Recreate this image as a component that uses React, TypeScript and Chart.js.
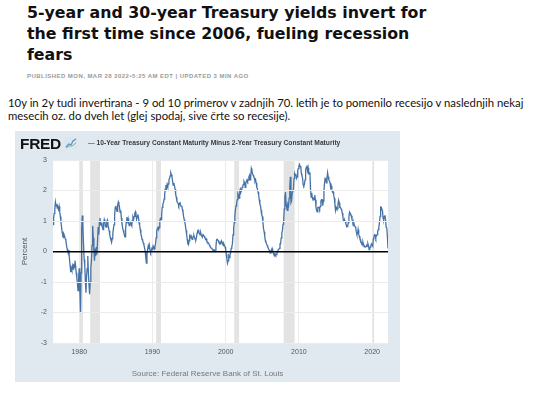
import React, { useEffect, useRef } from 'react';
import { Chart, registerables } from 'chart.js';

Chart.register(...registerables);

// ---- DATA ----
const seriesStart = '1976-06';
const spread1970s = [
  0.88, 1.10, 1.25, 1.40, 1.62, 1.50, 1.55,
  1.42, 1.45, 1.38, 1.48, 1.30, 1.15, 0.98, 0.80, 0.62, 0.55, 0.60, 0.48,
  0.50, 0.42, 0.38, 0.22, 0.10, 0.02, -0.05, 0.05, -0.25, -0.45, -0.68, -0.55,
  -0.62, -0.48, -0.58, -0.40, -0.52, -0.30, -0.45, -0.70, -0.85, -1.05, -1.28, -0.85,
];
const spread1980s = [
  -0.55, -1.25, -2.02, -0.70, 0.75, 1.18, 0.85, 0.25, -0.25, -0.45, -0.95, -1.35,
  -0.80, -0.55, -0.15, -0.70, -1.10, -1.40, -1.00, -0.55, -0.30, 0.20, 0.84, 0.45,
  0.05, -0.30, 0.10, -0.15, 0.15, -0.10, 0.35, 0.80, 0.55, 0.95, 1.10, 0.90,
  0.85, 0.95, 0.78, 0.72, 0.92, 1.05, 0.98, 0.82, 0.80, 0.95, 1.02, 0.88,
  0.78, 0.68, 0.55, 0.45, 0.38, 0.30, 0.42, 0.58, 0.75, 0.88, 1.20, 1.45,
  1.50, 1.38, 1.32, 1.52, 1.62, 1.55, 1.45, 1.28, 1.35, 1.10, 0.92, 0.78,
  0.70, 0.62, 0.55, 0.48, 0.75, 0.95, 1.12, 1.00, 1.08, 0.92, 0.85, 0.90,
  0.95, 0.90, 0.85, 1.02, 1.12, 1.05, 1.15, 1.25, 1.30, 1.18, 1.05, 1.15,
  1.22, 1.12, 0.95, 0.85, 0.72, 0.58, 0.50, 0.40, 0.35, 0.28, 0.22, 0.12,
  0.02, -0.18, -0.38, -0.12, 0.05, 0.18, 0.08, 0.20, 0.05, -0.02, 0.05, 0.10,
];
const spread1990s = [
  0.08, 0.18, 0.12, 0.08, 0.15, 0.25, 0.45, 0.68, 0.75, 0.82, 0.72, 0.78,
  1.00, 1.08, 1.05, 1.20, 1.45, 1.55, 1.60, 1.72, 1.88, 2.05, 2.18, 2.08,
  2.20, 2.12, 2.22, 2.35, 2.40, 2.48, 2.58, 2.52, 2.45, 2.30, 2.18, 2.25,
  2.15, 2.05, 1.88, 1.78, 1.65, 1.60, 1.58, 1.50, 1.55, 1.62, 1.52, 1.48,
  1.50, 1.38, 1.30, 1.15, 1.05, 0.98, 0.85, 0.70, 0.55, 0.40, 0.25, 0.22,
  0.35, 0.50, 0.45, 0.55, 0.45, 0.40, 0.45, 0.50, 0.52, 0.45, 0.40, 0.38,
  0.45, 0.60, 0.68, 0.70, 0.65, 0.58, 0.55, 0.62, 0.55, 0.50, 0.48, 0.55,
  0.55, 0.50, 0.45, 0.40, 0.42, 0.35, 0.30, 0.30, 0.28, 0.22, 0.18, 0.15,
  0.12, 0.10, 0.08, 0.05, 0.05, 0.02, 0.03, 0.00, 0.15, 0.38, 0.40, 0.40,
  0.35, 0.30, 0.30, 0.25, 0.30, 0.35, 0.30, 0.25, 0.20, 0.25, 0.20, 0.15,
];
const spread2000s = [
  0.05, -0.10, -0.25, -0.38, -0.30, -0.15, -0.20, -0.10, -0.05, 0.10, 0.15, 0.25,
  0.55, 0.75, 0.95, 1.15, 1.38, 1.50, 1.60, 1.70, 1.90, 1.85, 1.75, 2.00,
  2.05, 1.95, 2.00, 2.10, 2.15, 2.20, 2.30, 2.25, 2.10, 2.25, 2.30, 2.35,
  2.30, 2.35, 2.45, 2.50, 2.35, 2.45, 2.72, 2.65, 2.55, 2.50, 2.45, 2.40,
  2.30, 2.35, 2.25, 2.10, 2.05, 1.95, 1.85, 1.70, 1.55, 1.50, 1.35, 1.20,
  1.15, 0.95, 0.75, 0.65, 0.50, 0.35, 0.30, 0.25, 0.20, 0.15, 0.10, 0.05,
  0.02, -0.05, -0.02, 0.05, 0.10, 0.00, -0.05, -0.10, -0.12, -0.08, -0.12, -0.10,
  -0.05, -0.02, 0.05, 0.05, 0.10, 0.25, 0.25, 0.45, 0.60, 0.70, 0.90, 1.00,
  1.40, 1.80, 1.95, 1.55, 1.45, 1.35, 1.55, 1.50, 1.75, 2.10, 2.45, 1.60,
  1.65, 1.90, 1.90, 2.05, 2.40, 2.55, 2.50, 2.55, 2.40, 2.45, 2.65, 2.72,
];
const spread2010s = [
  2.80, 2.85, 2.78, 2.80, 2.55, 2.48, 2.40, 2.18, 2.15, 2.20, 2.35, 2.68,
  2.75, 2.82, 2.65, 2.75, 2.55, 2.55, 2.60, 2.05, 1.78, 1.92, 1.75, 1.72,
  1.75, 1.70, 1.85, 1.70, 1.45, 1.35, 1.30, 1.45, 1.45, 1.45, 1.40, 1.48,
  1.65, 1.70, 1.70, 1.50, 1.65, 2.00, 2.25, 2.40, 2.38, 2.25, 2.40, 2.58,
  2.45, 2.35, 2.32, 2.25, 2.10, 2.15, 2.03, 1.95, 1.96, 1.85, 1.75, 1.55,
  1.35, 1.45, 1.40, 1.40, 1.55, 1.68, 1.60, 1.45, 1.45, 1.40, 1.38, 1.26,
  1.15, 1.00, 1.01, 1.03, 0.98, 0.91, 0.85, 0.82, 0.86, 0.95, 1.15, 1.29,
  1.25, 1.20, 1.17, 1.05, 0.98, 0.85, 0.93, 0.85, 0.82, 0.78, 0.65, 0.56,
  0.58, 0.72, 0.57, 0.50, 0.42, 0.39, 0.30, 0.25, 0.22, 0.30, 0.22, 0.15,
  0.17, 0.15, 0.16, 0.20, 0.18, 0.26, 0.20, 0.06, 0.08, 0.15, 0.20, 0.25,
];
const spread2020s = [
  0.22, 0.18, 0.42, 0.48, 0.55, 0.54, 0.45, 0.52, 0.55, 0.65, 0.72, 0.80,
  0.95, 1.15, 1.46, 1.45, 1.45, 1.32, 1.08, 1.05, 1.14, 1.19, 1.05, 0.79,
  0.78, 0.49, 0.10,
];

const xTickYears = [1980, 1990, 2000, 2010, 2020];
const yTickValues = [-3, -2, -1, 0, 1, 2, 3];
const recessionStarts = ['1980-01', '1981-07', '1990-07', '2001-03', '2007-12', '2020-02'];
const recessionEnds = ['1980-07', '1982-11', '1991-03', '2001-11', '2009-06', '2020-04'];

const seriesLabel = '10-Year Treasury Constant Maturity Minus 2-Year Treasury Constant Maturity';

// ---- helpers ----
function monthToYear(s: string): number {
  const [y, m] = s.split('-').map(Number);
  return y + (m - 1) / 12;
}

const allValues = [...spread1970s, ...spread1980s, ...spread1990s, ...spread2000s, ...spread2010s, ...spread2020s];
const startYear = monthToYear(seriesStart);
const points = allValues.map((v, i) => ({ x: startYear + i / 12, y: v }));

const panelPlugin = {
  id: 'panelPlugin',
  beforeDraw(chart: any) {
    const { ctx, chartArea, scales } = chart;
    ctx.save();
    ctx.fillStyle = '#e1e9f0';
    ctx.fillRect(0, 0, chart.width, chart.height);
    ctx.fillStyle = '#ffffff';
    ctx.fillRect(chartArea.left, chartArea.top, chartArea.right - chartArea.left, chartArea.bottom - chartArea.top);
    ctx.fillStyle = '#e3e3e3';
    recessionStarts.forEach((s, i) => {
      const x0 = scales.x.getPixelForValue(monthToYear(s));
      const x1 = scales.x.getPixelForValue(monthToYear(recessionEnds[i]));
      ctx.fillRect(x0, chartArea.top, Math.max(1, x1 - x0), chartArea.bottom - chartArea.top);
    });
    ctx.restore();
  },
};

function FredChart() {
  const ref = useRef<HTMLCanvasElement | null>(null);
  useEffect(() => {
    if (!ref.current) return;
    const chart = new Chart(ref.current, {
      type: 'line',
      data: {
        datasets: [
          {
            label: seriesLabel,
            data: points,
            borderColor: '#4572a7',
            borderWidth: 1.3,
            pointRadius: 0,
            tension: 0,
            fill: false,
          },
        ],
      },
      options: {
        animation: false,
        responsive: false,
        devicePixelRatio: 1,
        parsing: false as any,
        layout: { padding: { top: 29, right: 12, left: 0, bottom: 0 } },
        plugins: { legend: { display: false }, tooltip: { enabled: false }, title: { display: false } },
        scales: {
          x: {
            type: 'linear',
            min: points[0].x,
            max: points[points.length - 1].x,
            border: { display: false },
            grid: { color: '#ebebeb', drawTicks: false, lineWidth: 1 },
            ticks: {
              color: '#555',
              font: { family: 'Liberation Sans, Arial, sans-serif', size: 7 },
              padding: 5,
              maxRotation: 0,
              autoSkip: false,
              callback: (v: any) => String(v),
            },
            afterBuildTicks: (s: any) => {
              s.ticks = xTickYears.map((v) => ({ value: v }));
            },
            afterFit: (s: any) => {
              s.height = 39;
            },
          },
          y: {
            min: -3,
            max: 3,
            border: { display: false },
            grid: {
              drawTicks: false,
              color: (c: any) => (c.tick && c.tick.value === 0 ? '#000000' : '#ebebeb'),
              lineWidth: (c: any) => (c.tick && c.tick.value === 0 ? 1.6 : 1),
              z: 1,
            },
            ticks: {
              color: '#555',
              font: { family: 'Liberation Sans, Arial, sans-serif', size: 7 },
              padding: 6,
              callback: (v: any) => String(v),
            },
            afterBuildTicks: (s: any) => {
              s.ticks = yTickValues.map((v) => ({ value: v }));
            },
            title: {
              display: true,
              text: 'Percent',
              color: '#555',
              font: { family: 'Liberation Sans, Arial, sans-serif', size: 8 },
              padding: { top: 5, bottom: 0 },
            },
            afterFit: (s: any) => {
              s.width = 38;
            },
          },
        },
      },
      plugins: [panelPlugin],
    } as any);
    return () => chart.destroy();
  }, []);
  return <canvas ref={ref} width={385} height={251} style={{ display: 'block', width: 385, height: 251 }} />;
}

export default function App() {
  return (
    <div style={{ position: 'fixed', left: 0, top: 0, width: 552, height: 395, background: '#fff', overflow: 'hidden' }}>
      <div
        style={{
          position: 'absolute',
          left: 27,
          top: 2,
          font: 'bold 15.8px "DejaVu Sans", sans-serif',
          lineHeight: '21.2px',
          color: '#111',
          whiteSpace: 'nowrap',
        }}
      >
        5-year and 30-year Treasury yields invert for
        <br />
        the first time since 2006, fueling recession
        <br />
        fears
      </div>
      <div
        style={{
          position: 'absolute',
          left: 27,
          top: 73,
          font: 'bold 6px "Liberation Sans", Arial, sans-serif',
          letterSpacing: '0.45px',
          color: '#9a9a9a',
          whiteSpace: 'nowrap',
        }}
      >
        PUBLISHED MON, MAR 28 2022•5:25 AM EDT | UPDATED 3 MIN AGO
      </div>
      <div
        style={{
          position: 'absolute',
          left: 8,
          top: 97,
          font: '11.35px Lato, "Liberation Sans", sans-serif',
          lineHeight: '12.6px',
          color: '#111',
          whiteSpace: 'nowrap',
        }}
      >
        10y in 2y tudi invertirana - 9 od 10 primerov v zadnjih 70. letih je to pomenilo recesijo v naslednjih nekaj
        <br />
        mesecih oz. do dveh let (glej spodaj, sive črte so recesije).
      </div>
      <div style={{ position: 'absolute', left: 15, top: 131 }}>
        <FredChart />
      </div>
      <div
        style={{
          position: 'absolute',
          left: 20,
          top: 135,
          font: 'bold 15.5px "Liberation Sans", Arial, sans-serif',
          color: '#111',
          letterSpacing: '-0.3px',
          lineHeight: '17px',
        }}
      >
        FRED
      </div>
      <svg style={{ position: 'absolute', left: 65, top: 137 }} width={12} height={12} viewBox="0 0 12 12">
        <rect x={0} y={0} width={12} height={12} fill="#dce6f0" />
        <polyline points="1,10 4,7 6,8 8,4 11,2" fill="none" stroke="#5a8fc8" strokeWidth={1.2} />
        <polyline points="1,11 4,9 7,9 11,6" fill="none" stroke="#8fb86a" strokeWidth={1} />
      </svg>
      <div
        style={{
          position: 'absolute',
          left: 88,
          top: 139,
          font: 'bold 6.7px "Liberation Sans", Arial, sans-serif',
          color: '#3a3a3a',
          whiteSpace: 'nowrap',
          lineHeight: '8px',
        }}
      >
        <span style={{ color: '#4572a7' }}>—</span> {seriesLabel}
      </div>
      <div
        style={{
          position: 'absolute',
          left: 15,
          width: 385,
          top: 369,
          textAlign: 'center',
          font: '8px "Liberation Sans", Arial, sans-serif',
          color: '#777',
          lineHeight: '10px',
        }}
      >
        Source: Federal Reserve Bank of St. Louis
      </div>
    </div>
  );
}
